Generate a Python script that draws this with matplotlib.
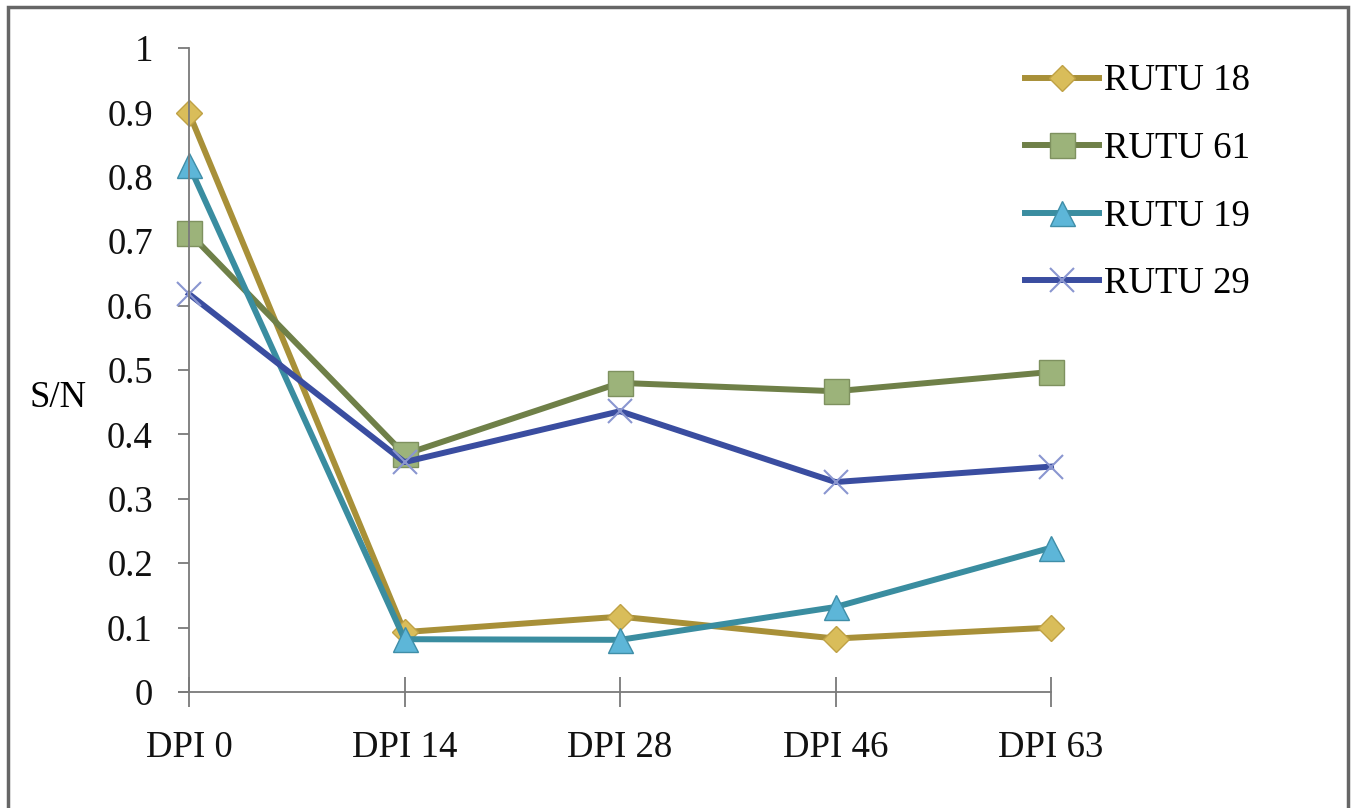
import matplotlib
matplotlib.use("Agg")
import matplotlib.pyplot as plt
from matplotlib.patches import Rectangle

plt.rcParams['font.family'] = ['Liberation Serif', 'DejaVu Serif']

days = ['DPI 0', 'DPI 14', 'DPI 28', 'DPI 46', 'DPI 63']
rutu18 = [0.899, 0.093, 0.117, 0.083, 0.100]
rutu61 = [0.713, 0.369, 0.480, 0.467, 0.497]
rutu19 = [0.818, 0.082, 0.081, 0.132, 0.224]
rutu29 = [0.618, 0.357, 0.436, 0.326, 0.350]
names = ['RUTU 18', 'RUTU 61', 'RUTU 19', 'RUTU 29']

fs = 26.5

fig = plt.figure(figsize=(13.55, 8.08), dpi=100)
ax = fig.add_axes([189/1355, 1 - 692/808, (1051 - 189)/1355, (692 - 48)/808])

x = list(range(len(days)))
ax.plot(x, rutu18, color='#A89038', lw=4.3, marker='D', ms=13,
        mfc='#D9BD5A', mec='#BFA145', mew=1, label=names[0], clip_on=False)
ax.plot(x, rutu61, color='#6F8048', lw=4.3, marker='s', ms=18,
        mfc='#9CB37A', mec='#7E915F', mew=1, label=names[1], clip_on=False)
ax.plot(x, rutu19, color='#3A8DA0', lw=4.3, marker='^', ms=18,
        mfc='#5DB6D8', mec='#3F8EA8', mew=1, label=names[2], clip_on=False)
ax.plot(x, rutu29, color='#3A4DA0', lw=4.3, marker='x', ms=17,
        mec='#8A96D0', mew=1.5, label=names[3], clip_on=False)

ax.set_xlim(0, 4)
ax.set_ylim(0, 1)
ax.set_xticks(x)
ax.set_xticklabels(days)
ax.set_yticks([i / 10 for i in range(11)])
ax.set_yticklabels(['0', '0.1', '0.2', '0.3', '0.4', '0.5', '0.6', '0.7', '0.8', '0.9', '1'])

for s in ['top', 'right']:
    ax.spines[s].set_visible(False)
for s in ['left', 'bottom']:
    ax.spines[s].set_color('#7a7a7a')
    ax.spines[s].set_linewidth(1.3)
ax.spines['bottom'].set_bounds(-0.045, 4)

ax.tick_params(axis='y', direction='out', length=8, width=1.3, color='#7a7a7a',
               labelsize=fs, pad=18)
ax.tick_params(axis='x', direction='inout', length=22, width=1.3, color='#7a7a7a',
               labelsize=fs, pad=17)
for t in ax.get_xticklabels() + ax.get_yticklabels():
    t.set_color('#111111')

fig.text(58/1355, 1 - 398/808, 'S/N', fontsize=fs, ha='center', va='center')

ax.legend(loc='upper left', bbox_to_anchor=(1025/1355, 1 - 64/808),
          bbox_transform=fig.transFigure, frameon=False, fontsize=fs,
          handlelength=2.0, handletextpad=0.15, labelspacing=0.9,
          borderaxespad=0, borderpad=0)

fig.patches.append(Rectangle((8/1355, -0.05), 1340/1355, 1.05 - 7/808,
                             transform=fig.transFigure, fill=False,
                             edgecolor='#666666', lw=2.5, figure=fig))

fig.savefig('out.png', dpi=100)
